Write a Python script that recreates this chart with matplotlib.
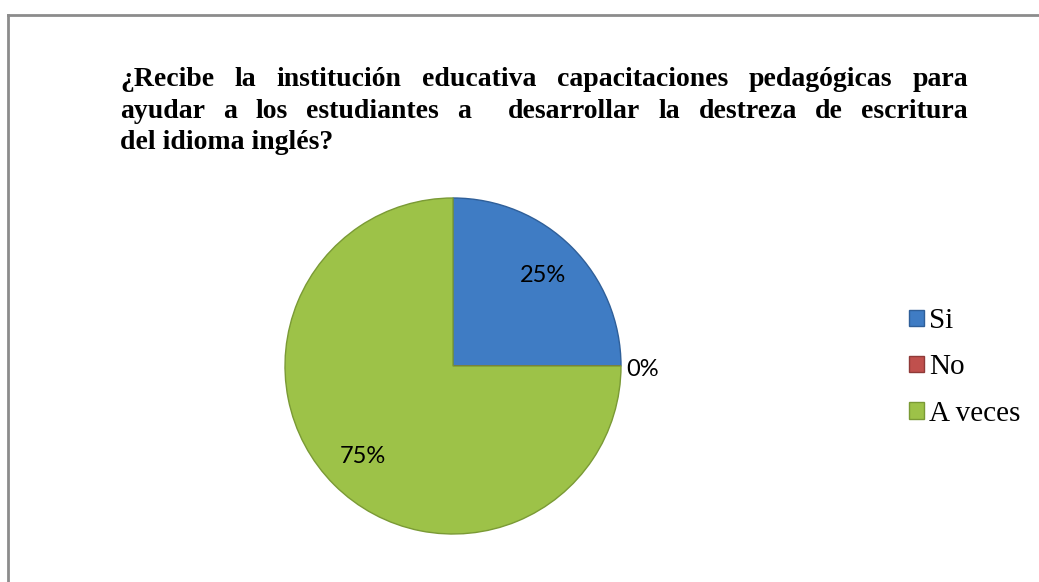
import matplotlib
matplotlib.use('Agg')
import matplotlib.pyplot as plt
from matplotlib.lines import Line2D

# Chart data
categories = ['Si', 'No', 'A veces']
values = [25, 0, 75]
colors = ['#3F7CC4', '#C0504D', '#9DC248']
edge_colors = ['#2F5F99', '#8F3A38', '#7A9A35']

title_lines = [
    '¿Recibe la institución educativa capacitaciones pedagógicas para',
    'ayudar a los estudiantes a  desarrollar la destreza de escritura',
    'del idioma inglés?',
]

W, H = 1039, 582
fig = plt.figure(figsize=(W / 100, H / 100), dpi=100)
fig.patch.set_facecolor('white')

# Outer frame (only the top and left edges are visible)
frame_col = '#8C8C8C'
fig.add_artist(Line2D([8 / W, 8 / W], [0, 1 - 15 / H], transform=fig.transFigure,
                      color=frame_col, lw=2))
fig.add_artist(Line2D([8 / W, 1], [1 - 15 / H, 1 - 15 / H], transform=fig.transFigure,
                      color=frame_col, lw=2))

# Title, justified between left and right margins
left_px, right_px = 120, 968
baselines = [86, 118, 149]
title_font = dict(family='Liberation Serif', weight='bold', size=20)
renderer = fig.canvas.get_renderer()
for i, line in enumerate(title_lines):
    y = 1 - baselines[i] / H
    if i == len(title_lines) - 1:
        fig.text(left_px / W, y, line, ha='left', va='baseline', **title_font)
        continue
    words = line.split()
    txts = [fig.text(0, y, w, ha='left', va='baseline', **title_font) for w in words]
    widths = [t.get_window_extent(renderer).width for t in txts]
    # gaps: double space in line 2 counts as a wider gap
    gap_weights = []
    k = 0
    weight = 0
    for p in line.split(' '):
        if p == '':
            weight += 1
            continue
        if k > 0:
            gap_weights.append(weight)
        weight = 1
        k += 1
    free = (right_px - left_px) - sum(widths)
    unit = free / sum(gap_weights)
    x = left_px
    for j, t in enumerate(txts):
        t.set_x(x / W)
        x += widths[j]
        if j < len(gap_weights):
            x += unit * gap_weights[j]

# Pie
cx, cy, r = 453, 366, 168
ax = fig.add_axes([(cx - r) / W, (H - cy - r) / H, 2 * r / W, 2 * r / H])
wedges, texts, autotexts = ax.pie(values, colors=colors, startangle=90, counterclock=False,
                                  autopct='%1.0f%%', pctdistance=0.76,
                                  wedgeprops=dict(linewidth=1.0),
                                  textprops=dict(family='Lato', size=17, color='black'))
for w, ec in zip(wedges, edge_colors):
    w.set_edgecolor(ec)
# the empty slice's label sits outside the pie
autotexts[1].set_position((1.13, -0.02))
autotexts[1].set_ha('center')
ax.set_xlim(-1, 1)
ax.set_ylim(-1, 1)
ax.set_aspect('equal')
ax.axis('off')

# Legend
fig.legend(wedges, categories, loc='center left',
           bbox_to_anchor=(909 / W, 1 - 367.5 / H), frameon=False,
           prop=dict(family='Liberation Serif', size=21),
           handlelength=0.5, handleheight=0.5, handletextpad=0.2,
           labelspacing=0.69, borderpad=0, borderaxespad=0)

fig.savefig('out.png', dpi=100)
